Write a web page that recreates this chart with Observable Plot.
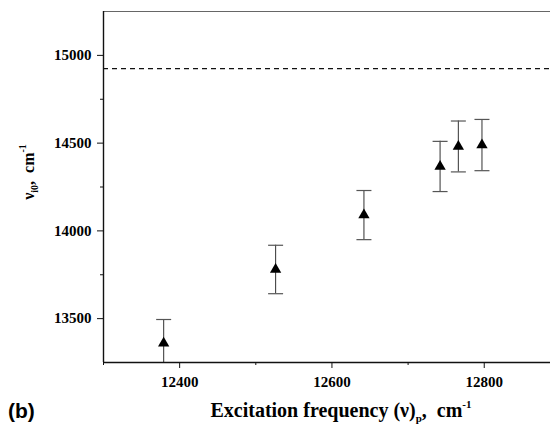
<!DOCTYPE html>
<html>
<head>
<meta charset="utf-8">
<script src="https://cdn.jsdelivr.net/npm/d3@7"></script>
<script src="https://cdn.jsdelivr.net/npm/@observablehq/plot@0.6"></script>
<style>
  html, body { margin: 0; padding: 0; background: #fff; }
  svg { display: block; }
</style>
</head>
<body>
<div id="chart"></div>
<script>
// ---- data ----
const excitation = [12379, 12526, 12642, 12742, 12766, 12797];   // (ν)p, cm-1
const nuI0       = [13360, 13780, 14090, 14367, 14481, 14489];   // νi0, cm-1
const errHalf    = [135, 138, 140, 143, 145, 146];               // error bar half-range
const dashedLevel = [14925];
const xDomain = [12300, 12887];
const yDomain = [13250, 15250];
const xMajorTicks = [12400, 12600, 12800];
const xMinorTicks = [12300, 12500, 12700];
const yMajorTicks = [13500, 14000, 14500, 15000];
const yMinorTicks = [13750, 14250, 14750];

const data = excitation.map((x, i) => ({
  x, y: nuI0[i], lo: nuI0[i] - errHalf[i], hi: nuI0[i] + errHalf[i]
}));

const serif = "Liberation Serif, Times New Roman, serif";

// horizontal-line symbol for error bar caps
const capSymbol = {
  draw(context, size) {
    const r = Math.sqrt(size / Math.PI);
    context.moveTo(-r, 0);
    context.lineTo(r, 0);
  }
};

const plot = Plot.plot({
  width: 553,
  height: 424,
  marginLeft: 103,
  marginRight: 3,
  marginTop: 11,
  marginBottom: 62,
  style: { background: "#fff", overflow: "visible", fontFamily: serif },
  x: { domain: xDomain },
  y: { domain: yDomain },
  marks: [
    // dashed reference level
    Plot.ruleY(dashedLevel, { stroke: "#111", strokeWidth: 1.2, strokeDasharray: "5,4" }),
    // error bars
    Plot.ruleX(data, { x: "x", y1: "lo", y2: "hi", stroke: "#444", strokeWidth: 1.1, clip: true }),
    Plot.dot(data, { x: "x", y: "hi", symbol: capSymbol, r: 7.5, stroke: "#555", strokeWidth: 1.2, clip: true }),
    Plot.dot(data, { x: "x", y: "lo", symbol: capSymbol, r: 7.5, stroke: "#555", strokeWidth: 1.2, clip: true }),
    // triangles
    Plot.dot(data, { x: "x", y: "y", symbol: "triangle", r: 4.2, fill: "#000", stroke: "none" }),
    // frame lines
    Plot.ruleY([yDomain[1]], { stroke: "#666", strokeWidth: 1.2 }),
    Plot.ruleX([xDomain[0]], { stroke: "#111", strokeWidth: 1.4 }),
    Plot.ruleY([yDomain[0]], { stroke: "#111", strokeWidth: 1.4 }),
    // axes
    Plot.axisY({ ticks: yMajorTicks, tickSize: 6, tickPadding: 6, tickFormat: d => String(d),
      fontSize: 15, fontWeight: "bold", fontFamily: serif, label: null, stroke: "#111", fill: "#000" }),
    Plot.axisY({ ticks: yMinorTicks, tickSize: 3, text: null, label: null, stroke: "#111" }),
    Plot.axisX({ ticks: xMajorTicks, tickSize: 6, tickPadding: 8, tickFormat: d => String(d),
      fontSize: 15, fontWeight: "bold", fontFamily: serif, label: null, stroke: "#111", fill: "#000" }),
    Plot.axisX({ ticks: xMinorTicks, tickSize: 3, text: null, label: null, stroke: "#111" })
  ]
});

const svg = d3.select(plot);

// x-axis title with subscript/superscript
const xt = svg.append("text")
  .attr("x", 341).attr("y", 417)
  .attr("text-anchor", "middle")
  .style("font-family", serif).style("font-weight", "bold").style("font-size", "20px")
  .attr("fill", "#000");
xt.append("tspan").text("Excitation frequency (ν)");
xt.append("tspan").style("font-size", "11px").attr("dy", 5).text("p");
xt.append("tspan").attr("dy", -5).text(",  cm");
xt.append("tspan").style("font-size", "11px").attr("dy", -9).text("-1");

// y-axis title
const yt = svg.append("text")
  .attr("transform", "translate(34,172) rotate(-90)")
  .attr("text-anchor", "middle")
  .style("font-family", serif).style("font-weight", "bold").style("font-size", "16px")
  .attr("fill", "#000");
yt.append("tspan").text("ν");
yt.append("tspan").style("font-size", "10px").attr("dy", 4).text("i0");
yt.append("tspan").attr("dy", -4).text(",  cm");
yt.append("tspan").style("font-size", "10px").attr("dy", -8).text("-1");

// panel label
svg.append("text")
  .attr("x", 8).attr("y", 418)
  .attr("text-anchor", "start")
  .style("font-family", "Liberation Sans, Arial, sans-serif")
  .style("font-weight", "bold").style("font-size", "21px")
  .attr("fill", "#000")
  .text("(b)");

document.getElementById("chart").appendChild(plot);
</script>
</body>
</html>
